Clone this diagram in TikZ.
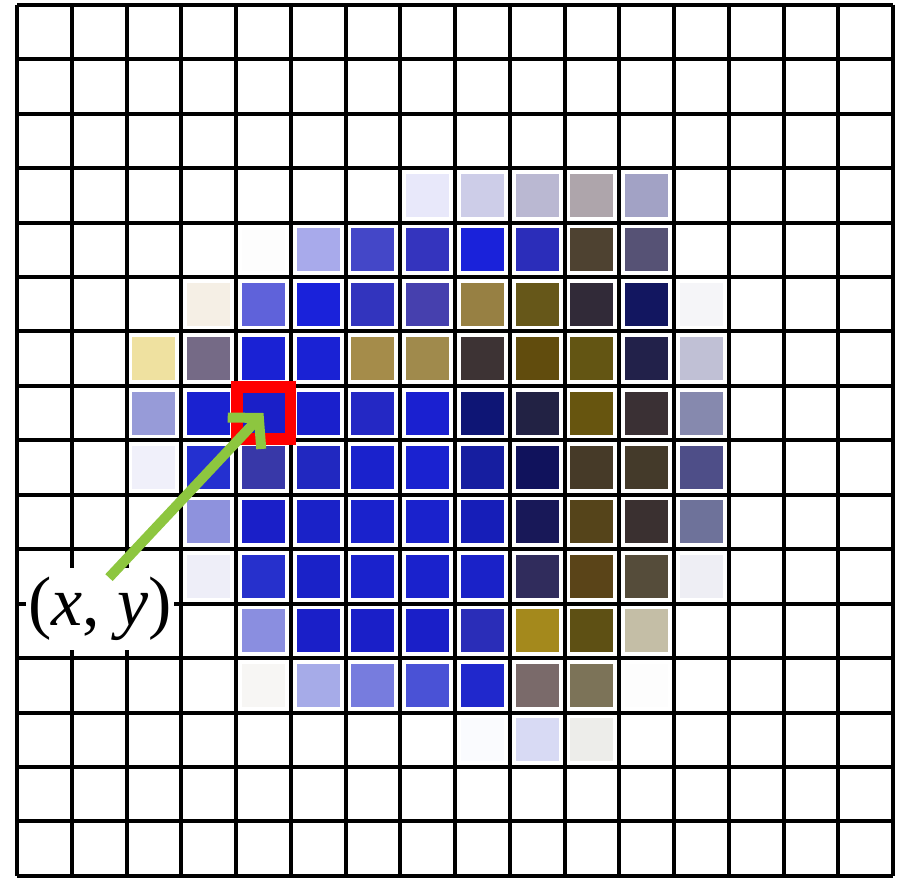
\documentclass[tikz,border=0pt]{standalone}
\usepackage{fontspec}
\setmainfont{Liberation Serif}
\usetikzlibrary{arrows.meta,calc}
\definecolor{arrowgreen}{HTML}{8DC63F}
\begin{document}
\begin{tikzpicture}[x=0.5pt,y=-0.5pt,
  gridline/.style={line width=2pt,black,line cap=square},
  redbox/.style={draw=red,line width=5.8pt,inner sep=0pt,minimum width=26.8pt,minimum height=26pt},
  labelbox/.style={fill=white,inner sep=0pt,minimum width=74pt,minimum height=41pt,font=\fontsize{35}{40}\selectfont},
  pointer/.style={arrowgreen,line width=5pt,-{Straight Barb[length=10.5pt,width=23pt]}}]
\useasboundingbox (0,0) rectangle (900,879);
\fill[white] (0,0) rectangle (900,879);
\def\X{54.75}\def\Y{54.45}
\foreach \r/\c/\col in {
 3/7/E8E8FA,3/8/CDCDE8,3/9/BAB8D2,3/10/AEA5AB,3/11/A2A2C5,
 4/4/FDFDFD,4/5/A8AAEB,4/6/4447C8,4/7/3434BE,4/8/1A22DA,4/9/2B2DBA,4/10/4E4231,4/11/565275,
 5/3/F5EFE5,5/4/5F62DA,5/5/1A22DA,5/6/3234BE,5/7/4640AE,5/8/978043,5/9/665719,5/10/312A38,5/11/121660,5/12/F5F5F8,
 6/2/EFE1A0,6/3/756A86,6/4/1A22D4,6/5/1A22D4,6/6/A58C4A,6/7/A08A4C,6/8/3D3334,6/9/614C0D,6/10/635513,6/11/22214A,6/12/C0C0D5,
 7/2/979BD8,7/3/1A22D0,7/4/1A1FC8,7/5/1A20CC,7/6/2428C4,7/7/1A20D0,7/8/0E1575,7/9/222244,7/10/67550F,7/11/3A3034,7/12/8689AE,
 8/2/F0F0FA,8/3/2430D0,8/4/3838A8,8/5/2128C0,8/6/1A22CC,8/7/1A22D0,8/8/161EA0,8/9/10125C,8/10/463A28,8/11/443A2A,8/12/4E4E88,
 9/3/8E92DD,9/4/1A1FC8,9/5/1A22C8,9/6/1A22CC,9/7/1A22CC,9/8/161EB8,9/9/181858,9/10/55441A,9/11/3A3030,9/12/6E729A,
 10/3/EEEEF8,10/4/2630CC,10/5/1A22C8,10/6/1A22CC,10/7/1A22CC,10/8/1A22C8,10/9/302C5C,10/10/5A4418,10/11/554C3A,10/12/EEEEF4,
 11/4/8A8EE0,11/5/1A1FC8,11/6/1A1FC8,11/7/1A1FC8,11/8/2A2DB8,11/9/A4891C,11/10/5E5014,11/11/C4BEA6,
 12/4/F7F6F4,12/5/A6ABE8,12/6/777CDE,12/7/4A52D6,12/8/2028CC,12/9/7A6A6A,12/10/7C7358,12/11/FDFDFD,
 13/8/FAFBFE,13/9/D8DAF4,13/10/EDEDEA}{
  \definecolor{cellcol}{HTML}{\col}
  \fill[cellcol] ({17+\X*(\c+0.5)-21.5},{4.7+\Y*(\r+0.5)-21.5}) rectangle ++(43,43);
}
\foreach \i in {0,...,16}{
  \draw[gridline] ({17+\X*\i},4.7) -- ({17+\X*\i},{4.7+\Y*16});
  \draw[gridline] (17,{4.7+\Y*\i}) -- ({17+\X*16},{4.7+\Y*\i});
}
\node[redbox] (target) at (263.5,413) {};
\node[labelbox] (lbl) at (100,609) {(\textit{x}, \textit{y})};
\draw[pointer] ($(lbl.north)+(9,10)$) -- (target.center);
\end{tikzpicture}
\end{document}
